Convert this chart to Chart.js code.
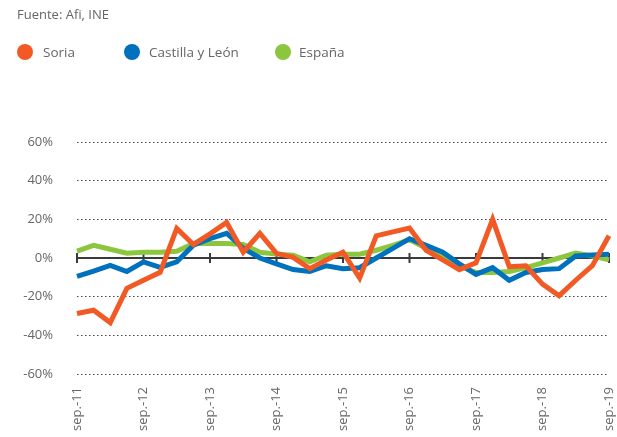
<!DOCTYPE html>
<html>
<head>
<meta charset="utf-8">
<script src="https://cdn.jsdelivr.net/npm/chart.js@4/dist/chart.umd.min.js"></script>
<style>
  html, body { margin: 0; padding: 0; background: #fff; }
  #wrap { position: relative; width: 617px; height: 437px; font-family: "Open Sans", sans-serif; color: #666; }
  #source { position: absolute; left: 17px; top: 5px; font-size: 13px; }
  #legend { position: absolute; left: 0; top: 42px; font-size: 13.5px; }
  .item { position: absolute; white-space: nowrap; line-height: 20px; }
  .dot { position: absolute; width: 16px; height: 16px; border-radius: 50%; top: 2px; }
  #chart { position: absolute; left: 0; top: 0; }
</style>
</head>
<body>
<div id="wrap">
  <canvas id="chart" width="617" height="437"></canvas>
  <div id="source">Fuente: Afi, INE</div>
  <div id="legend"></div>
</div>
<script>
const QUARTERS = [
  'sep.-11', 'dic.-11', 'mar.-12', 'jun.-12', 'sep.-12', 'dic.-12', 'mar.-13', 'jun.-13',
  'sep.-13', 'dic.-13', 'mar.-14', 'jun.-14', 'sep.-14', 'dic.-14', 'mar.-15', 'jun.-15',
  'sep.-15', 'dic.-15', 'mar.-16', 'jun.-16', 'sep.-16', 'dic.-16', 'mar.-17', 'jun.-17',
  'sep.-17', 'dic.-17', 'mar.-18', 'jun.-18', 'sep.-18', 'dic.-18', 'mar.-19', 'jun.-19', 'sep.-19'
];

const SORIA = [-28.7, -27, -33.4, -15.7, -11.5, -7.4, 15.3, 7, 12.5, 18.4, 3, 12.7, 2.4, 0.3, -5.5, -1,
  3, -10.4, 11.5, 13.5, 15.5, 4, -1, -6, -2.5, 20, -4.5, -4, -13.5, -19.5, -11.5, -4, 11.5];
const CASTILLA = [-9.5, -6.8, -3.8, -7, -2, -4.8, -2, 6.6, 10, 12.8, 5, 0, -3, -6, -7, -4,
  -5.5, -5, 0, 5, 10, 6.5, 3, -3, -8.5, -5, -11.5, -7.5, -6, -5.5, 1, 1.5, 2];
const ESPANA = [3.6, 6.5, 4.5, 2.5, 3, 3, 3.5, 7.5, 7.5, 7.5, 7, 3, 2, 1.5, -2, 1.5,
  2, 2, 4, 6.5, 9.5, 5, 1.5, -4, -7.5, -7.5, -7, -5, -2.5, 0, 2.5, 1, -1];

const SERIES_NAMES = ['Soria', 'Castilla y León', 'España'];
const SERIES_COLORS = ['#F15A24', '#0071BC', '#8CC63F'];
const Y_TICKS = [-60, -40, -20, 0, 20, 40, 60];

// legend (html, placed like the original)
const legendX = [[25, 43], [132, 149], [283, 299]];
const legend = document.getElementById('legend');
SERIES_NAMES.forEach((name, i) => {
  const it = document.createElement('div');
  it.className = 'item';
  it.style.left = legendX[i][1] + 'px';
  it.textContent = name;
  const dot = document.createElement('div');
  dot.className = 'dot';
  dot.style.background = SERIES_COLORS[i];
  dot.style.left = (legendX[i][0] - 8) + 'px';
  legend.appendChild(dot);
  legend.appendChild(it);
});

// solid zero line with tick marks every 4 quarters
const zeroAxis = {
  id: 'zeroAxis',
  beforeDatasetsDraw(chart) {
    const { ctx, chartArea, scales } = chart;
    const y0 = scales.y.getPixelForValue(0);
    ctx.save();
    ctx.strokeStyle = '#3a3a3a';
    ctx.lineWidth = 2;
    ctx.beginPath();
    ctx.moveTo(chartArea.left, y0);
    ctx.lineTo(chartArea.right, y0);
    QUARTERS.forEach((q, i) => {
      if (i % 4 !== 0) return;
      const x = scales.x.getPixelForValue(i);
      ctx.moveTo(x, y0 - 5);
      ctx.lineTo(x, y0 + 5);
    });
    ctx.stroke();
    ctx.restore();
  }
};

new Chart(document.getElementById('chart'), {
  type: 'line',
  data: {
    labels: QUARTERS,
    datasets: [SORIA, CASTILLA, ESPANA].map((d, i) => ({
      label: SERIES_NAMES[i],
      data: d,
      borderColor: SERIES_COLORS[i],
      backgroundColor: SERIES_COLORS[i],
      borderWidth: 5,
      pointRadius: 0,
      tension: 0,
      fill: false,
    }))
  },
  options: {
    responsive: false,
    animation: false,
    layout: { padding: { top: 142, right: 8, left: 0, bottom: 0 } },
    plugins: { legend: { display: false }, tooltip: { enabled: false } },
    scales: {
      x: {
        offset: false,
        grid: { display: false },
        border: { display: false },
        afterFit: s => { s.height = 63; s.paddingLeft = 0; s.paddingRight = 0; },
        ticks: {
          autoSkip: false,
          minRotation: 90,
          maxRotation: 90,
          padding: 5,
          color: '#666',
          font: { family: 'Open Sans', size: 13 },
          callback: (v, i) => (i % 4 === 0 ? QUARTERS[i] : '')
        }
      },
      y: {
        min: -60,
        max: 60,
        afterFit: s => { s.width = 77; },
        afterBuildTicks: s => { s.ticks = Y_TICKS.map(v => ({ value: v })); },
        grid: {
          drawTicks: false,
          color: c => (c.tick && c.tick.value === 0 ? 'rgba(0,0,0,0)' : '#444'),
          lineWidth: 1
        },
        border: { display: false, dash: [1.5, 2.5] },
        ticks: {
          padding: 24,
          color: '#666',
          font: { family: 'Open Sans', size: 13 },
          callback: v => v + '%'
        }
      }
    }
  },
  plugins: [zeroAxis]
});
</script>
</body>
</html>
